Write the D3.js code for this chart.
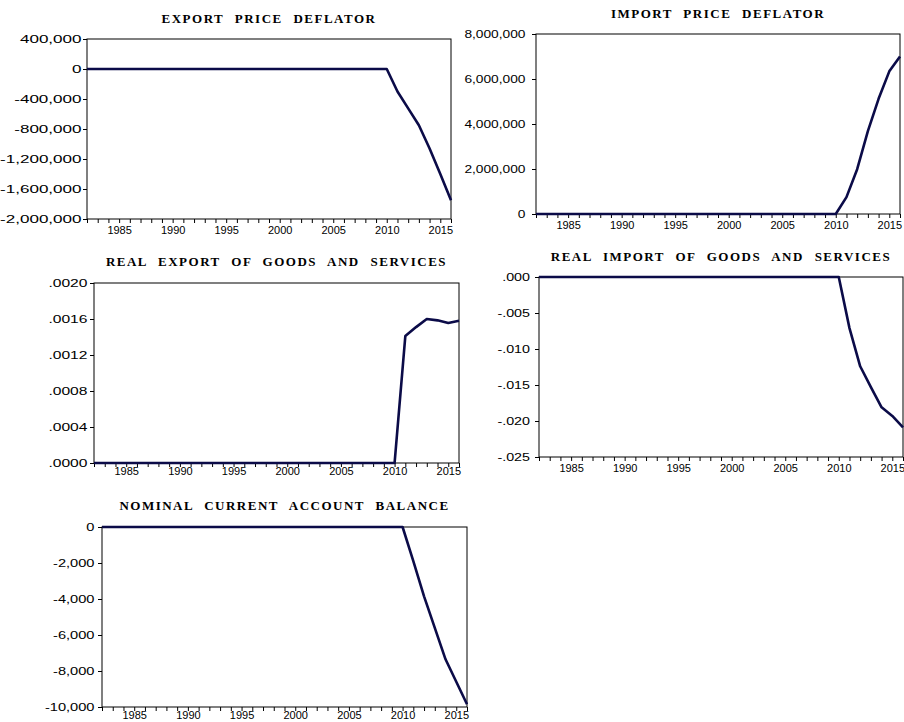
<!DOCTYPE html>
<html>
<head>
<meta charset="utf-8">
<script src="https://cdn.jsdelivr.net/npm/d3@7"></script>
<style>
  body { margin: 0; background: #ffffff; }
  svg { display: block; }
</style>
</head>
<body>
<svg id="chart"></svg>
<script>
// Yearly observations shown on every panel
const years = [
    1982, 1983, 1984, 1985, 1986, 1987, 1988, 1989, 1990, 1991,
    1992, 1993, 1994, 1995, 1996, 1997, 1998, 1999, 2000, 2001,
    2002, 2003, 2004, 2005, 2006, 2007, 2008, 2009, 2010, 2011,
    2012, 2013, 2014, 2015, 2016
];

// Series values (one per year)
const export_price_deflator = [
    0, 0, 0, 0, 0, 0, 0, 0, 0, 0,
    0, 0, 0, 0, 0, 0, 0, 0, 0, 0,
    0, 0, 0, 0, 0, 0, 0, 0, 0, -300000,
    -525000, -750000, -1060000, -1400000, -1750000
];
const import_price_deflator = [
    0, 0, 0, 0, 0, 0, 0, 0, 0, 0,
    0, 0, 0, 0, 0, 0, 0, 0, 0, 0,
    0, 0, 0, 0, 0, 0, 0, 0, 0, 750000,
    1990000, 3680000, 5120000, 6340000, 7000000
];
const real_export = [
    0, 0, 0, 0, 0, 0, 0, 0, 0, 0,
    0, 0, 0, 0, 0, 0, 0, 0, 0, 0,
    0, 0, 0, 0, 0, 0, 0, 0, 0, 0.00141,
    0.00151, 0.00160, 0.001585, 0.001555, 0.00158
];
const real_import = [
    0, 0, 0, 0, 0, 0, 0, 0, 0, 0,
    0, 0, 0, 0, 0, 0, 0, 0, 0, 0,
    0, 0, 0, 0, 0, 0, 0, 0, 0, -0.0071,
    -0.0124, -0.0153, -0.0181, -0.0193, -0.0209
];
const nominal_current_account = [
    0, 0, 0, 0, 0, 0, 0, 0, 0, 0,
    0, 0, 0, 0, 0, 0, 0, 0, 0, 0,
    0, 0, 0, 0, 0, 0, 0, 0, 0, -1900,
    -3850, -5600, -7350, -8600, -9850
];

// Panel titles
const panel_titles = [
    'EXPORT PRICE DEFLATOR',
    'IMPORT PRICE DEFLATOR',
    'REAL EXPORT OF GOODS AND SERVICES',
    'REAL IMPORT OF GOODS AND SERVICES',
    'NOMINAL CURRENT ACCOUNT BALANCE'
];

// Y tick values per panel
const export_ticks = [-2000000, -1600000, -1200000, -800000, -400000, 0, 400000];
const import_ticks = [0, 2000000, 4000000, 6000000, 8000000];
const real_export_ticks = [0, 0.0004, 0.0008, 0.0012, 0.0016, 0.0020];
const real_import_ticks = [-0.025, -0.020, -0.015, -0.010, -0.005, 0];
const current_account_ticks = [-10000, -8000, -6000, -4000, -2000, 0];

// X tick labels (every five years)
const year_labels = [1985, 1990, 1995, 2000, 2005, 2010, 2015];

// Formatters that use a plain hyphen and drop the leading zero like the original
function fmt_thousands(d) { return d3.format(',')(d).replace('\u2212', '-'); }
function fmt_fixed(digits) {
    return function (d) {
        return d3.format('.' + digits + 'f')(d).replace('\u2212', '-').replace('0.', '.');
    };
}

// Panels: data + layout (pad = y label gap, sx = horizontal stretch of y labels, xpad = x label gap)
const panels = [
    { title: panel_titles[0], values: export_price_deflator, ticks: export_ticks, fmt: fmt_thousands,
      left: 87, top: 39, width: 364, height: 180, title_y: 23, pad: 1.5, sx: 1.55, xpad: 3 },
    { title: panel_titles[1], values: import_price_deflator, ticks: import_ticks, fmt: fmt_thousands,
      left: 536, top: 34, width: 364, height: 180, title_y: 18, pad: 6.5, sx: 1.25, xpad: 3 },
    { title: panel_titles[2], values: real_export, ticks: real_export_ticks, fmt: fmt_fixed(4),
      left: 94, top: 283, width: 365, height: 180, title_y: 266, pad: 2.5, sx: 1.42, xpad: 0 },
    { title: panel_titles[3], values: real_import, ticks: real_import_ticks, fmt: fmt_fixed(3),
      left: 539, top: 277, width: 364, height: 180, title_y: 260.5, pad: 5, sx: 1.3, xpad: 3 },
    { title: panel_titles[4], values: nominal_current_account, ticks: current_account_ticks, fmt: fmt_thousands,
      left: 102, top: 527, width: 365, height: 180, title_y: 509.5, pad: 3.5, sx: 1.33, xpad: 0.5 }
];

const svg = d3.select('#chart')
    .attr('width', 904)
    .attr('height', 722);

// Draw one EViews-style panel
function draw_panel(p) {
    const g = svg.append('g')
        .attr('transform', 'translate(' + p.left + ',' + p.top + ')');

    const x = d3.scaleLinear()
        .domain([years[0], years[years.length - 1]])
        .range([0, p.width]);

    const y = d3.scaleLinear()
        .domain([p.ticks[0], p.ticks[p.ticks.length - 1]])
        .range([p.height, 0]);

    // Bottom axis: a tick every year, a label every five years
    const x_axis = g.append('g')
        .attr('transform', 'translate(0,' + p.height + ')')
        .call(d3.axisBottom(x)
            .tickValues(years)
            .tickSize(4)
            .tickPadding(p.xpad)
            .tickFormat(function (d) { return year_labels.includes(d) ? d : ''; }));
    x_axis.select('.domain').remove();
    x_axis.selectAll('text')
        .style('font-family', '"Liberation Sans", Arial, sans-serif')
        .style('font-size', '11px')
        .attr('fill', '#000');

    // Left axis
    const y_axis = g.append('g')
        .call(d3.axisLeft(y)
            .tickValues(p.ticks)
            .tickSize(4)
            .tickFormat(p.fmt));
    y_axis.select('.domain').remove();
    y_axis.selectAll('text')
        .attr('x', 0)
        .attr('transform', 'translate(' + (-4 - p.pad) + ',0) scale(' + p.sx + ',1)')
        .style('font-family', '"Liberation Sans", Arial, sans-serif')
        .style('font-size', '11px')
        .attr('fill', '#000');

    // Frame around the plot
    g.append('rect')
        .attr('width', p.width)
        .attr('height', p.height)
        .attr('fill', 'none')
        .attr('stroke', '#000')
        .attr('stroke-width', 1);

    // Series line
    const line = d3.line()
        .x(function (d, i) { return x(years[i]); })
        .y(function (d) { return y(d); });

    g.append('path')
        .datum(p.values)
        .attr('d', line)
        .attr('fill', 'none')
        .attr('stroke', '#0b0b48')
        .attr('stroke-width', 2.6)
        .attr('stroke-linejoin', 'round');

    // Title
    svg.append('text')
        .attr('x', p.left + p.width / 2)
        .attr('y', p.title_y)
        .attr('text-anchor', 'middle')
        .style('font-family', '"Liberation Serif", "Times New Roman", serif')
        .style('font-weight', 'bold')
        .style('font-size', '13px')
        .style('letter-spacing', '1.5px')
        .style('word-spacing', '6px')
        .text(p.title);
}

panels.forEach(draw_panel);
</script>
</body>
</html>
